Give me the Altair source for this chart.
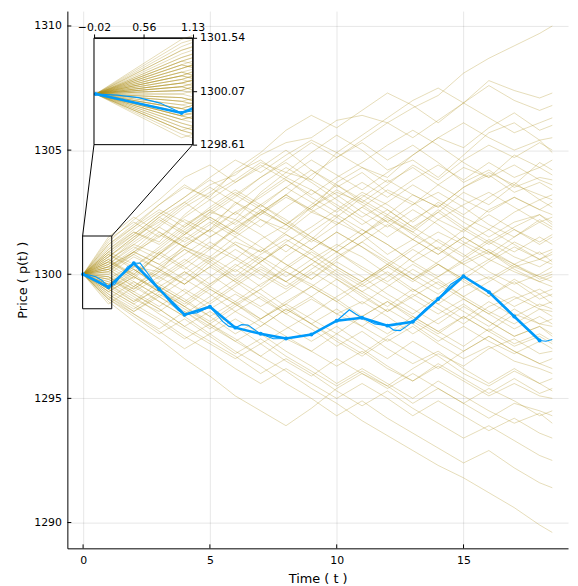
import altair as alt
import pandas as pd
import numpy as np

# ---------------- data ----------------
TIMES = [0, 1, 2, 3, 4, 5, 6, 7, 8, 9, 10, 11, 12, 13, 14, 15, 16, 17, 18, 18.5]
START = 1300.0

PATHS = [
    [1300.7, 1301.5, 1302.1, 1302.9, 1303.6, 1304.0, 1304.8, 1305.3, 1305.5, 1306.2, 1306.4, 1306.1, 1306.7, 1307.2, 1308.1, 1308.7, 1309.2, 1309.7, 1310.0],
    [1300.4, 1299.8, 1300.9, 1301.6, 1302.5, 1302.2, 1303.3, 1304.1, 1303.8, 1304.9, 1305.6, 1306.3, 1307.0, 1307.5, 1306.9, 1307.8, 1307.4, 1307.1, 1307.3],
    [1301.1, 1301.9, 1302.8, 1303.5, 1303.1, 1304.2, 1304.9, 1305.8, 1306.4, 1305.9, 1306.6, 1307.3, 1306.8, 1306.1, 1306.9, 1307.6, 1307.0, 1306.6, 1306.8],
    [1299.6, 1300.3, 1300.1, 1301.2, 1301.8, 1302.9, 1302.4, 1303.1, 1302.6, 1303.7, 1304.3, 1303.9, 1304.8, 1305.5, 1305.1, 1305.9, 1306.5, 1305.8, 1306.0],
    [1300.9, 1301.7, 1301.3, 1302.4, 1303.2, 1303.8, 1304.5, 1304.1, 1304.9, 1305.6, 1305.0, 1304.2, 1304.6, 1303.9, 1304.8, 1305.7, 1306.1, 1305.4, 1305.5],
    [1300.2, 1300.8, 1301.6, 1301.1, 1300.7, 1301.5, 1302.2, 1301.8, 1302.7, 1303.3, 1302.9, 1303.6, 1304.4, 1303.8, 1304.6, 1305.2, 1304.7, 1305.3, 1305.0],
    [1301.3, 1302.2, 1303.0, 1303.9, 1304.4, 1303.7, 1304.3, 1305.0, 1304.2, 1303.5, 1304.1, 1303.3, 1302.8, 1303.6, 1304.3, 1303.9, 1304.8, 1304.3, 1304.6],
    [1299.3, 1299.9, 1300.8, 1300.2, 1301.0, 1301.9, 1302.5, 1302.0, 1301.4, 1302.3, 1303.1, 1303.8, 1303.2, 1302.7, 1303.5, 1304.1, 1303.6, 1304.5, 1304.2],
    [1300.5, 1301.4, 1302.3, 1302.9, 1302.2, 1301.6, 1302.4, 1303.2, 1304.0, 1304.7, 1305.3, 1304.6, 1305.2, 1304.5, 1303.7, 1304.2, 1303.5, 1303.9, 1303.8],
    [1299.9, 1299.4, 1300.1, 1299.6, 1300.5, 1301.3, 1300.9, 1301.7, 1302.5, 1302.1, 1301.6, 1302.4, 1303.2, 1302.7, 1303.5, 1304.0, 1303.3, 1303.7, 1303.4],
    [1300.8, 1300.3, 1301.1, 1301.9, 1302.6, 1302.0, 1302.8, 1303.5, 1302.9, 1302.3, 1301.6, 1302.2, 1301.7, 1302.5, 1303.3, 1302.8, 1303.6, 1303.2, 1303.0],
    [1300.1, 1300.9, 1300.4, 1299.8, 1300.6, 1301.2, 1300.5, 1301.3, 1301.9, 1302.6, 1303.3, 1302.8, 1302.1, 1302.9, 1302.3, 1301.8, 1302.5, 1303.0, 1302.7],
    [1301.0, 1301.8, 1302.5, 1301.9, 1302.7, 1303.4, 1302.8, 1302.1, 1301.5, 1300.9, 1301.6, 1300.8, 1301.4, 1302.2, 1301.7, 1302.6, 1303.1, 1302.6, 1302.4],
    [1299.5, 1298.9, 1299.7, 1300.4, 1301.1, 1300.6, 1301.4, 1302.0, 1302.8, 1303.6, 1303.0, 1302.4, 1301.8, 1302.6, 1301.9, 1301.3, 1301.9, 1302.4, 1302.1],
    [1300.6, 1301.2, 1300.8, 1301.7, 1302.4, 1303.1, 1303.9, 1304.5, 1303.8, 1303.2, 1302.5, 1301.9, 1302.6, 1302.0, 1301.3, 1300.8, 1301.5, 1302.1, 1301.8],
    [1299.7, 1300.2, 1299.5, 1298.9, 1299.6, 1300.4, 1299.8, 1300.7, 1301.4, 1300.9, 1301.6, 1302.3, 1301.7, 1301.0, 1301.8, 1302.4, 1301.8, 1301.2, 1301.5],
    [1300.3, 1301.0, 1301.9, 1302.7, 1303.3, 1304.1, 1304.6, 1303.9, 1303.4, 1302.7, 1302.0, 1302.6, 1301.9, 1301.3, 1300.7, 1301.4, 1300.9, 1301.5, 1301.2],
    [1299.2, 1298.6, 1299.3, 1300.1, 1299.5, 1300.3, 1301.0, 1300.4, 1299.8, 1300.6, 1301.3, 1302.0, 1301.4, 1300.8, 1301.5, 1300.9, 1300.3, 1300.6, 1300.9],
    [1301.2, 1301.9, 1302.6, 1302.1, 1301.5, 1302.2, 1301.6, 1300.9, 1301.7, 1302.4, 1301.8, 1301.2, 1300.5, 1299.9, 1300.6, 1301.3, 1300.7, 1300.3, 1300.6],
    [1300.0, 1300.7, 1300.2, 1301.0, 1300.4, 1299.7, 1300.5, 1301.2, 1300.6, 1299.9, 1299.3, 1299.9, 1300.7, 1301.4, 1300.8, 1300.1, 1299.6, 1300.0, 1300.3],
    [1299.4, 1300.0, 1300.8, 1301.6, 1302.3, 1301.7, 1302.5, 1303.2, 1302.6, 1302.0, 1302.7, 1302.1, 1301.4, 1300.8, 1301.5, 1300.9, 1300.4, 1299.8, 1300.0],
    [1300.9, 1300.4, 1299.8, 1300.5, 1301.3, 1300.7, 1300.1, 1299.5, 1300.2, 1300.9, 1300.3, 1299.7, 1300.4, 1299.8, 1299.1, 1299.7, 1300.3, 1299.9, 1299.7],
    [1300.5, 1301.3, 1302.0, 1302.8, 1303.5, 1302.9, 1302.2, 1301.6, 1301.0, 1301.7, 1301.1, 1300.5, 1299.8, 1300.4, 1299.7, 1299.1, 1299.8, 1299.2, 1299.4],
    [1299.6, 1299.0, 1298.5, 1299.2, 1299.9, 1300.6, 1300.0, 1299.4, 1300.1, 1299.5, 1298.8, 1299.5, 1300.2, 1299.6, 1299.0, 1298.4, 1299.0, 1299.4, 1299.1],
    [1300.4, 1301.1, 1300.6, 1301.4, 1302.1, 1301.5, 1300.9, 1301.6, 1301.0, 1300.3, 1299.7, 1300.4, 1299.8, 1299.2, 1299.9, 1299.3, 1298.7, 1299.2, 1298.8],
    [1299.8, 1299.3, 1298.7, 1299.4, 1298.8, 1299.5, 1300.2, 1299.7, 1300.4, 1299.8, 1299.1, 1298.5, 1299.2, 1298.6, 1298.0, 1298.7, 1299.1, 1298.6, 1298.5],
    [1300.2, 1300.9, 1301.7, 1301.1, 1300.6, 1299.9, 1300.7, 1300.1, 1299.5, 1298.9, 1299.6, 1299.0, 1298.4, 1299.1, 1298.5, 1297.9, 1298.6, 1298.0, 1298.2],
    [1299.1, 1298.5, 1299.2, 1298.6, 1298.0, 1298.7, 1299.4, 1300.1, 1299.6, 1299.0, 1298.3, 1298.9, 1298.2, 1297.6, 1298.3, 1297.7, 1298.4, 1298.0, 1297.9],
    [1300.7, 1301.4, 1302.2, 1301.6, 1302.3, 1301.7, 1301.1, 1300.4, 1299.8, 1300.5, 1299.9, 1299.2, 1298.6, 1298.0, 1298.7, 1298.1, 1297.5, 1297.9, 1297.6],
    [1299.5, 1300.2, 1299.6, 1299.0, 1298.3, 1298.9, 1298.2, 1298.8, 1299.5, 1298.9, 1298.2, 1297.6, 1298.3, 1297.7, 1297.1, 1297.8, 1297.2, 1297.6, 1297.3],
    [1300.1, 1299.5, 1300.3, 1301.0, 1300.5, 1299.8, 1299.2, 1298.5, 1299.1, 1298.4, 1297.9, 1298.6, 1298.0, 1297.3, 1297.9, 1297.3, 1296.8, 1297.3, 1297.0],
    [1299.0, 1298.4, 1297.8, 1298.5, 1297.9, 1297.3, 1297.9, 1298.6, 1298.0, 1297.4, 1296.8, 1297.5, 1298.1, 1297.5, 1296.9, 1297.5, 1296.9, 1296.4, 1296.6],
    [1300.3, 1299.7, 1299.1, 1299.8, 1299.2, 1298.5, 1297.9, 1298.6, 1298.0, 1297.3, 1296.7, 1297.4, 1296.8, 1296.2, 1296.9, 1297.5, 1296.9, 1296.4, 1296.2],
    [1299.8, 1300.4, 1299.9, 1299.3, 1298.6, 1299.2, 1298.6, 1297.9, 1297.3, 1297.9, 1297.2, 1296.6, 1297.3, 1296.7, 1296.0, 1295.5, 1296.1, 1295.6, 1295.8],
    [1299.3, 1298.7, 1298.1, 1297.4, 1298.0, 1297.3, 1296.7, 1297.4, 1296.9, 1296.3, 1296.9, 1296.2, 1295.7, 1296.4, 1295.8, 1295.2, 1295.8, 1295.2, 1295.4],
    [1300.6, 1300.0, 1299.3, 1298.7, 1299.4, 1298.8, 1298.1, 1297.5, 1296.9, 1297.6, 1297.0, 1296.3, 1295.7, 1296.3, 1295.7, 1295.1, 1295.6, 1295.1, 1295.0],
    [1299.7, 1299.1, 1298.4, 1297.8, 1297.2, 1296.6, 1297.2, 1296.5, 1295.9, 1296.6, 1296.0, 1295.4, 1296.0, 1295.4, 1294.8, 1295.4, 1294.9, 1294.3, 1294.5],
    [1300.2, 1299.6, 1298.9, 1298.3, 1297.6, 1298.2, 1297.6, 1296.9, 1296.3, 1295.6, 1296.2, 1295.6, 1295.0, 1295.7, 1295.1, 1294.5, 1294.0, 1294.4, 1294.0],
    [1299.4, 1298.8, 1298.2, 1297.5, 1296.9, 1296.2, 1295.6, 1296.2, 1295.6, 1295.0, 1295.6, 1295.0, 1294.3, 1294.9, 1294.3, 1293.7, 1294.2, 1293.6, 1293.4],
    [1299.9, 1299.2, 1298.6, 1297.9, 1297.3, 1296.7, 1296.0, 1296.6, 1296.0, 1295.3, 1294.7, 1295.3, 1294.6, 1294.0, 1293.4, 1293.9, 1293.3, 1292.7, 1292.5],
    [1299.1, 1298.4, 1297.7, 1297.0, 1297.6, 1296.9, 1296.3, 1295.6, 1295.0, 1294.3, 1294.9, 1294.2, 1293.6, 1293.0, 1292.4, 1292.9, 1292.2, 1291.6, 1291.4],
    [1299.6, 1298.9, 1299.4, 1298.7, 1298.0, 1297.4, 1296.7, 1296.1, 1295.4, 1294.8, 1294.1, 1293.5, 1292.9, 1292.3, 1291.8, 1291.2, 1290.6, 1289.9, 1289.6],
    [1298.9, 1298.1, 1297.4, 1296.6, 1295.9, 1295.1, 1294.5, 1293.9, 1294.6, 1295.4, 1296.0, 1295.5, 1296.2, 1296.8, 1296.3, 1297.0, 1297.4, 1296.8, 1296.9],
    [1300.9, 1301.6, 1302.4, 1303.1, 1303.9, 1304.6, 1304.1, 1304.8, 1305.4, 1304.9, 1304.3, 1303.7, 1304.3, 1303.6, 1303.0, 1302.5, 1303.1, 1302.6, 1302.9],
    [1299.3, 1299.9, 1299.4, 1298.8, 1299.5, 1298.9, 1299.6, 1300.2, 1300.9, 1300.3, 1299.7, 1300.4, 1301.1, 1301.7, 1301.2, 1300.6, 1301.3, 1300.8, 1301.0],
    [1300.6, 1299.9, 1299.3, 1298.7, 1298.1, 1298.8, 1298.2, 1298.9, 1299.5, 1300.2, 1299.6, 1300.3, 1301.0, 1300.4, 1299.8, 1300.5, 1301.1, 1300.6, 1300.4],
    [1301.0, 1301.7, 1301.2, 1302.0, 1302.6, 1303.3, 1302.7, 1303.5, 1304.2, 1303.6, 1302.9, 1302.3, 1301.6, 1301.0, 1300.4, 1300.9, 1300.2, 1299.7, 1299.9],
    [1299.8, 1299.2, 1298.6, 1297.9, 1298.5, 1297.9, 1297.2, 1297.8, 1298.4, 1299.1, 1299.7, 1300.3, 1299.7, 1300.4, 1299.8, 1299.1, 1299.7, 1299.0, 1299.2],
    [1300.0, 1299.4, 1300.1, 1300.8, 1301.5, 1302.1, 1302.8, 1302.2, 1301.5, 1300.9, 1300.2, 1299.6, 1299.0, 1298.4, 1299.0, 1298.4, 1297.8, 1298.3, 1298.0],
    [1300.3, 1300.9, 1301.5, 1302.2, 1301.7, 1302.5, 1303.1, 1303.8, 1303.2, 1303.9, 1304.5, 1305.2, 1305.8, 1305.2, 1304.5, 1303.9, 1304.4, 1303.8, 1303.6],
    [1300.5, 1300.0, 1300.8, 1301.5, 1301.0, 1301.8, 1302.6, 1302.0, 1301.3, 1302.0, 1302.7, 1303.4, 1302.9, 1302.2, 1302.8, 1303.3, 1302.7, 1302.1, 1302.3],
    [1299.4, 1300.1, 1300.9, 1300.3, 1299.6, 1300.2, 1299.5, 1300.3, 1301.0, 1301.7, 1301.1, 1300.4, 1299.8, 1300.5, 1301.2, 1301.8, 1301.2, 1300.6, 1300.8],
    [1301.4, 1302.1, 1301.5, 1302.3, 1303.0, 1302.4, 1303.2, 1303.9, 1304.6, 1304.0, 1303.4, 1304.1, 1304.8, 1305.5, 1306.1, 1305.5, 1305.0, 1305.4, 1304.9],
    [1299.0, 1299.7, 1299.1, 1298.4, 1299.1, 1299.8, 1300.5, 1301.2, 1300.6, 1300.0, 1299.3, 1298.7, 1299.4, 1298.8, 1298.2, 1298.9, 1298.3, 1298.8, 1298.6],
    [1300.8, 1300.2, 1299.5, 1300.1, 1299.4, 1298.8, 1299.4, 1298.7, 1298.0, 1298.6, 1297.9, 1297.3, 1297.9, 1297.2, 1296.6, 1297.1, 1296.5, 1296.2, 1296.0],
    [1299.6, 1300.3, 1301.0, 1301.8, 1302.5, 1303.2, 1302.6, 1302.0, 1302.7, 1303.4, 1302.8, 1302.1, 1302.8, 1303.3, 1302.7, 1302.0, 1301.5, 1302.2, 1301.9],
    [1300.1, 1300.8, 1300.2, 1299.6, 1300.3, 1299.7, 1299.0, 1298.4, 1299.0, 1298.4, 1298.9, 1298.3, 1297.6, 1298.2, 1298.8, 1298.1, 1297.5, 1297.9, 1297.5],
    [1300.4, 1301.2, 1301.9, 1301.3, 1302.0, 1302.8, 1303.6, 1304.3, 1303.7, 1303.0, 1302.3, 1302.9, 1303.6, 1303.0, 1302.4, 1303.1, 1303.7, 1303.0, 1303.2],
    [1299.9, 1299.3, 1299.9, 1300.6, 1300.0, 1299.3, 1298.7, 1299.3, 1300.0, 1300.7, 1301.3, 1300.6, 1300.0, 1299.4, 1300.0, 1300.6, 1300.1, 1299.7, 1299.5],
    [1301.2, 1302.0, 1302.8, 1303.6, 1303.0, 1303.7, 1304.4, 1303.8, 1303.1, 1302.5, 1303.2, 1302.6, 1301.9, 1302.5, 1301.8, 1301.2, 1301.8, 1301.3, 1301.6],
    [1299.2, 1298.5, 1299.1, 1298.5, 1297.8, 1298.5, 1299.1, 1298.4, 1297.8, 1297.1, 1297.7, 1297.0, 1296.4, 1296.9, 1296.2, 1295.6, 1296.2, 1295.6, 1295.3],
    [1300.3, 1300.9, 1300.4, 1301.1, 1301.8, 1301.2, 1300.6, 1299.9, 1300.6, 1301.2, 1300.7, 1300.0, 1299.3, 1299.9, 1300.5, 1301.0, 1300.4, 1299.9, 1300.1],
    [1300.5, 1299.9, 1299.3, 1300.0, 1300.7, 1300.1, 1300.8, 1301.4, 1300.8, 1300.1, 1299.5, 1300.1, 1299.4, 1298.8, 1299.5, 1299.9, 1299.3, 1298.7, 1298.9],
    [1300.7, 1301.5, 1302.3, 1301.7, 1301.1, 1301.8, 1302.5, 1303.2, 1302.5, 1303.1, 1303.7, 1303.1, 1303.8, 1304.4, 1303.8, 1304.5, 1303.9, 1304.3, 1304.0],
    [1299.4, 1298.8, 1299.5, 1298.9, 1298.3, 1297.6, 1298.2, 1298.8, 1298.2, 1297.6, 1298.3, 1298.9, 1298.3, 1297.7, 1298.3, 1297.7, 1297.1, 1297.5, 1297.2],
    [1300.2, 1299.5, 1298.9, 1298.3, 1298.9, 1299.6, 1300.3, 1299.7, 1300.4, 1301.1, 1301.8, 1301.2, 1300.5, 1301.1, 1300.4, 1299.8, 1300.4, 1300.9, 1300.5],
    [1301.5, 1302.3, 1301.7, 1301.1, 1301.8, 1302.5, 1301.9, 1302.7, 1303.4, 1302.8, 1302.2, 1301.5, 1302.2, 1302.8, 1302.1, 1301.5, 1302.1, 1302.4, 1302.0],
    [1298.8, 1299.5, 1300.2, 1299.6, 1300.3, 1301.0, 1300.4, 1299.7, 1299.1, 1299.8, 1299.2, 1298.5, 1299.1, 1299.7, 1299.1, 1298.5, 1298.0, 1298.6, 1298.3],
    [1300.8, 1301.6, 1302.4, 1303.1, 1303.8, 1303.2, 1303.9, 1304.6, 1305.3, 1304.7, 1305.4, 1306.1, 1305.5, 1306.2, 1306.9, 1306.3, 1305.7, 1306.1, 1306.3],
    [1299.0, 1298.3, 1297.6, 1298.2, 1297.5, 1296.8, 1297.4, 1296.7, 1296.1, 1295.5, 1296.1, 1295.5, 1294.8, 1295.4, 1294.8, 1294.2, 1294.8, 1294.5, 1294.3],
]

# observed price at integer times (thick blue with markers)
OBS_T = [0, 1, 2, 3, 4, 5, 6, 7, 8, 9, 10, 11, 12, 13, 14, 15, 16, 17, 18]
OBS_P = [1300.0, 1299.48, 1300.44, 1299.4, 1298.37, 1298.69, 1297.85, 1297.6, 1297.41, 1297.57,
         1298.13, 1298.25, 1297.93, 1298.09, 1299.0, 1299.92, 1299.28, 1298.3, 1297.33]

# underlying fine path (thin blue)
TRUE_T = [0, 0.25, 0.5, 0.75, 1.0, 1.25, 1.5, 1.75, 2.0, 2.25, 2.5, 2.75, 3.0, 3.25, 3.5, 3.75, 4.0,
          4.5, 5.0, 5.25, 5.5, 5.75, 6.0, 6.25, 6.5, 7.0, 7.5, 8.0, 8.5, 9.0, 9.5, 10.0, 10.25, 10.5,
          10.75, 11.0, 11.5, 12.0, 12.25, 12.5, 12.75, 13.0, 13.5, 14.0, 14.5, 15.0, 15.5, 16.0, 16.5,
          17.0, 17.5, 18.0, 18.25, 18.5]
TRUE_P = [1300.0, 1299.97, 1299.9, 1299.75, 1299.48, 1299.6, 1299.95, 1300.3, 1300.44, 1300.45,
          1300.1, 1299.75, 1299.4, 1299.1, 1298.8, 1298.55, 1298.37, 1298.45, 1298.69, 1298.4,
          1298.1, 1297.9, 1297.85, 1297.97, 1297.95, 1297.6, 1297.4, 1297.41, 1297.5, 1297.57,
          1297.85, 1298.13, 1298.35, 1298.57, 1298.4, 1298.25, 1298.0, 1297.93, 1297.75, 1297.73,
          1297.9, 1298.09, 1298.6, 1299.0, 1299.6, 1299.92, 1299.6, 1299.28, 1298.8, 1298.3,
          1297.8, 1297.33, 1297.3, 1297.37]

XTICKS = [0, 5, 10, 15]
YTICKS = [1290, 1295, 1300, 1305, 1310]
X_DOMAIN = [-0.62, 19.12]
Y_DOMAIN = [1288.96, 1310.6]

INSET_XDOM = [-0.02, 1.13]
INSET_YDOM = [1298.61, 1301.54]
INSET_XTICKS = [-0.02, 0.56, 1.13]
INSET_YTICKS = [1298.61, 1300.07, 1301.54]
# where the inset sits, in main-plot data units
INSET_AT_X = [0.43, 4.32]
INSET_AT_Y = [1305.22, 1309.52]

GOLD = "#AC8E18"
BLUE = "#009AFA"
W, H = 506, 543
FONT = "DejaVu Sans"

# ---------------- tables ----------------
rows = []
for i, vals in enumerate(PATHS):
    ps = [START] + vals
    for t, p in zip(TIMES, ps):
        rows.append({"path": i, "t": t, "p": p})
df_paths = pd.DataFrame(rows)
df_obs = pd.DataFrame({"t": OBS_T, "p": OBS_P})
df_true = pd.DataFrame({"t": TRUE_T, "p": TRUE_P})


def clip_series(ts, ps, tmax):
    ts = np.asarray(ts, float)
    ps = np.asarray(ps, float)
    keep = ts <= tmax
    out_t = list(ts[keep]) + [tmax]
    out_p = list(ps[keep]) + [float(np.interp(tmax, ts, ps))]
    return out_t, out_p


rows = []
for i, vals in enumerate(PATHS):
    ct, cp = clip_series(TIMES, [START] + vals, INSET_XDOM[1])
    for t, p in zip(ct, cp):
        rows.append({"path": i, "t": t, "p": p})
in_paths = pd.DataFrame(rows)
ct, cp = clip_series(TRUE_T, TRUE_P, INSET_XDOM[1])
in_true = pd.DataFrame({"t": ct, "p": cp})
ct, cp = clip_series(OBS_T, OBS_P, INSET_XDOM[1])
in_obs = pd.DataFrame({"t": ct, "p": cp})
in_obs_pts = df_obs[df_obs["t"] <= INSET_XDOM[1]]


# pixel placement of the inset inside the main view
def px_x(v):
    return (v - X_DOMAIN[0]) / (X_DOMAIN[1] - X_DOMAIN[0]) * W


def px_y(v):
    return (Y_DOMAIN[1] - v) / (Y_DOMAIN[1] - Y_DOMAIN[0]) * H


ix0, ix1 = px_x(INSET_AT_X[0]), px_x(INSET_AT_X[1])
iy_top, iy_bot = px_y(INSET_AT_Y[1]), px_y(INSET_AT_Y[0])

# ---------------- main plot ----------------
sx = alt.Scale(domain=X_DOMAIN, nice=False, zero=False)
sy = alt.Scale(domain=Y_DOMAIN, nice=False, zero=False)
ax_x = alt.Axis(values=XTICKS, format="d", grid=True, gridColor="#000000", gridOpacity=0.1,
                domainColor="#000000", domainWidth=1, ticks=False, tickSize=0, labelFontSize=11,
                labelColor="#000000", labelPadding=6, labelFlush=False, title="Time ( t )",
                titleFontSize=13, titleFontWeight="normal", titleColor="#000000", titlePadding=8)
ax_y = alt.Axis(values=YTICKS, format="d", grid=True, gridColor="#000000", gridOpacity=0.1,
                domainColor="#000000", domainWidth=1, ticks=False, tickSize=0, labelFontSize=11,
                labelColor="#000000", labelPadding=6, labelFlush=False, title="Price ( p(t) )",
                titleFontSize=13, titleFontWeight="normal", titleColor="#000000", titlePadding=4)

X = lambda f="t": alt.X(f + ":Q", scale=sx, axis=ax_x)
Y = lambda f="p": alt.Y(f + ":Q", scale=sy, axis=ax_y)

paths = alt.Chart(df_paths).mark_line(color=GOLD, strokeWidth=1, opacity=0.3).encode(
    x=X(), y=Y(), detail="path:N")
true_line = alt.Chart(df_true).mark_line(color=BLUE, strokeWidth=1.1).encode(x=X(), y=Y())
obs_line = alt.Chart(df_obs).mark_line(color=BLUE, strokeWidth=2.6).encode(x=X(), y=Y())
obs_pts = alt.Chart(df_obs).mark_circle(color=BLUE, size=16, opacity=1).encode(x=X(), y=Y())

yt = pd.DataFrame({"p": YTICKS})
ytick_marks = alt.Chart(yt).mark_rule(color="#000000", strokeWidth=1).encode(
    y=Y(), x=alt.value(0), x2=alt.value(4))
xt = pd.DataFrame({"t": XTICKS})
xtick_marks = alt.Chart(xt).mark_rule(color="#000000", strokeWidth=1).encode(
    x=X(), y=alt.value(H), y2=alt.value(H - 4))

zoom_box = alt.Chart(pd.DataFrame({"t": [INSET_XDOM[0]], "t2": [INSET_XDOM[1]],
                                   "p": [INSET_YDOM[0]], "p2": [INSET_YDOM[1]]})).mark_rect(
    fillOpacity=0, stroke="#000000", strokeWidth=1).encode(
    x=X(), x2="t2:Q", y=Y(), y2="p2:Q")
connectors = alt.Chart(pd.DataFrame({
    "t": [INSET_XDOM[0], INSET_XDOM[1]], "p": [INSET_YDOM[1], INSET_YDOM[1]],
    "t2": [INSET_AT_X[0], INSET_AT_X[1]], "p2": [INSET_AT_Y[0], INSET_AT_Y[0]]})).mark_rule(
    color="#000000", strokeWidth=1).encode(x=X(), y=Y(), x2="t2:Q", y2="p2:Q")

main = alt.layer(paths, true_line, obs_line, obs_pts, ytick_marks, xtick_marks, zoom_box, connectors)

# ---------------- inset ----------------
isx = alt.Scale(domain=INSET_XDOM, range=[ix0, ix1], nice=False, zero=False)
isy = alt.Scale(domain=INSET_YDOM, range=[iy_bot, iy_top], nice=False, zero=False)
iax_x = alt.Axis(orient="top", offset=-iy_top, values=INSET_XTICKS, format=".2f", grid=False,
                 domainColor="#000000", domainWidth=1, ticks=True, tickSize=4, tickColor="#000000",
                 labelFontSize=11, labelColor="#000000", labelPadding=1, labelFlush=False,
                 labelOverlap=False, title=None)
iax_y = alt.Axis(orient="right", offset=-(W - ix1), values=INSET_YTICKS, format=".2f", grid=False,
                 domainColor="#000000", domainWidth=1, ticks=True, tickSize=4, tickColor="#000000",
                 labelFontSize=11, labelColor="#000000", labelPadding=3, labelFlush=False,
                 labelOverlap=False, title=None)
IX = lambda f="t": alt.X(f + ":Q", scale=isx, axis=iax_x)
IY = lambda f="p": alt.Y(f + ":Q", scale=isy, axis=iax_y)

ig_x = alt.Chart(pd.DataFrame({"t": INSET_XTICKS, "p": [INSET_YDOM[0]] * 3, "p2": [INSET_YDOM[1]] * 3})
                 ).mark_rule(color="#000000", opacity=0.1).encode(x=IX(), y=IY(), y2="p2:Q")
ig_y = alt.Chart(pd.DataFrame({"p": INSET_YTICKS, "t": [INSET_XDOM[0]] * 3, "t2": [INSET_XDOM[1]] * 3})
                 ).mark_rule(color="#000000", opacity=0.1).encode(y=IY(), x=IX(), x2="t2:Q")
in_path_marks = alt.Chart(in_paths).mark_line(color=GOLD, strokeWidth=1, opacity=0.3).encode(
    x=IX(), y=IY(), detail="path:N")
in_true_mark = alt.Chart(in_true).mark_line(color=BLUE, strokeWidth=1.1).encode(x=IX(), y=IY())
in_obs_mark = alt.Chart(in_obs).mark_line(color=BLUE, strokeWidth=2.6).encode(x=IX(), y=IY())
in_obs_pt = alt.Chart(in_obs_pts).mark_circle(color=BLUE, size=16, opacity=1).encode(x=IX(), y=IY())
in_frame = alt.Chart(pd.DataFrame({"t": [INSET_XDOM[0]], "t2": [INSET_XDOM[1]],
                                   "p": [INSET_YDOM[0]], "p2": [INSET_YDOM[1]]})).mark_rect(
    fillOpacity=0, stroke="#000000", strokeWidth=1).encode(x=IX(), x2="t2:Q", y=IY(), y2="p2:Q")

inset = alt.layer(ig_x, ig_y, in_path_marks, in_true_mark, in_obs_mark, in_obs_pt, in_frame)

chart = alt.layer(main, inset).resolve_scale(x="independent", y="independent").properties(
    width=W, height=H,
    autosize=alt.AutoSizeParams(type="none"),
    padding={"left": 60, "top": 0, "right": 2, "bottom": 40},
).configure_view(stroke=None).configure_axis(labelFont=FONT, titleFont=FONT)

chart.save("out.html", embed_options={"renderer": "svg", "actions": False})
